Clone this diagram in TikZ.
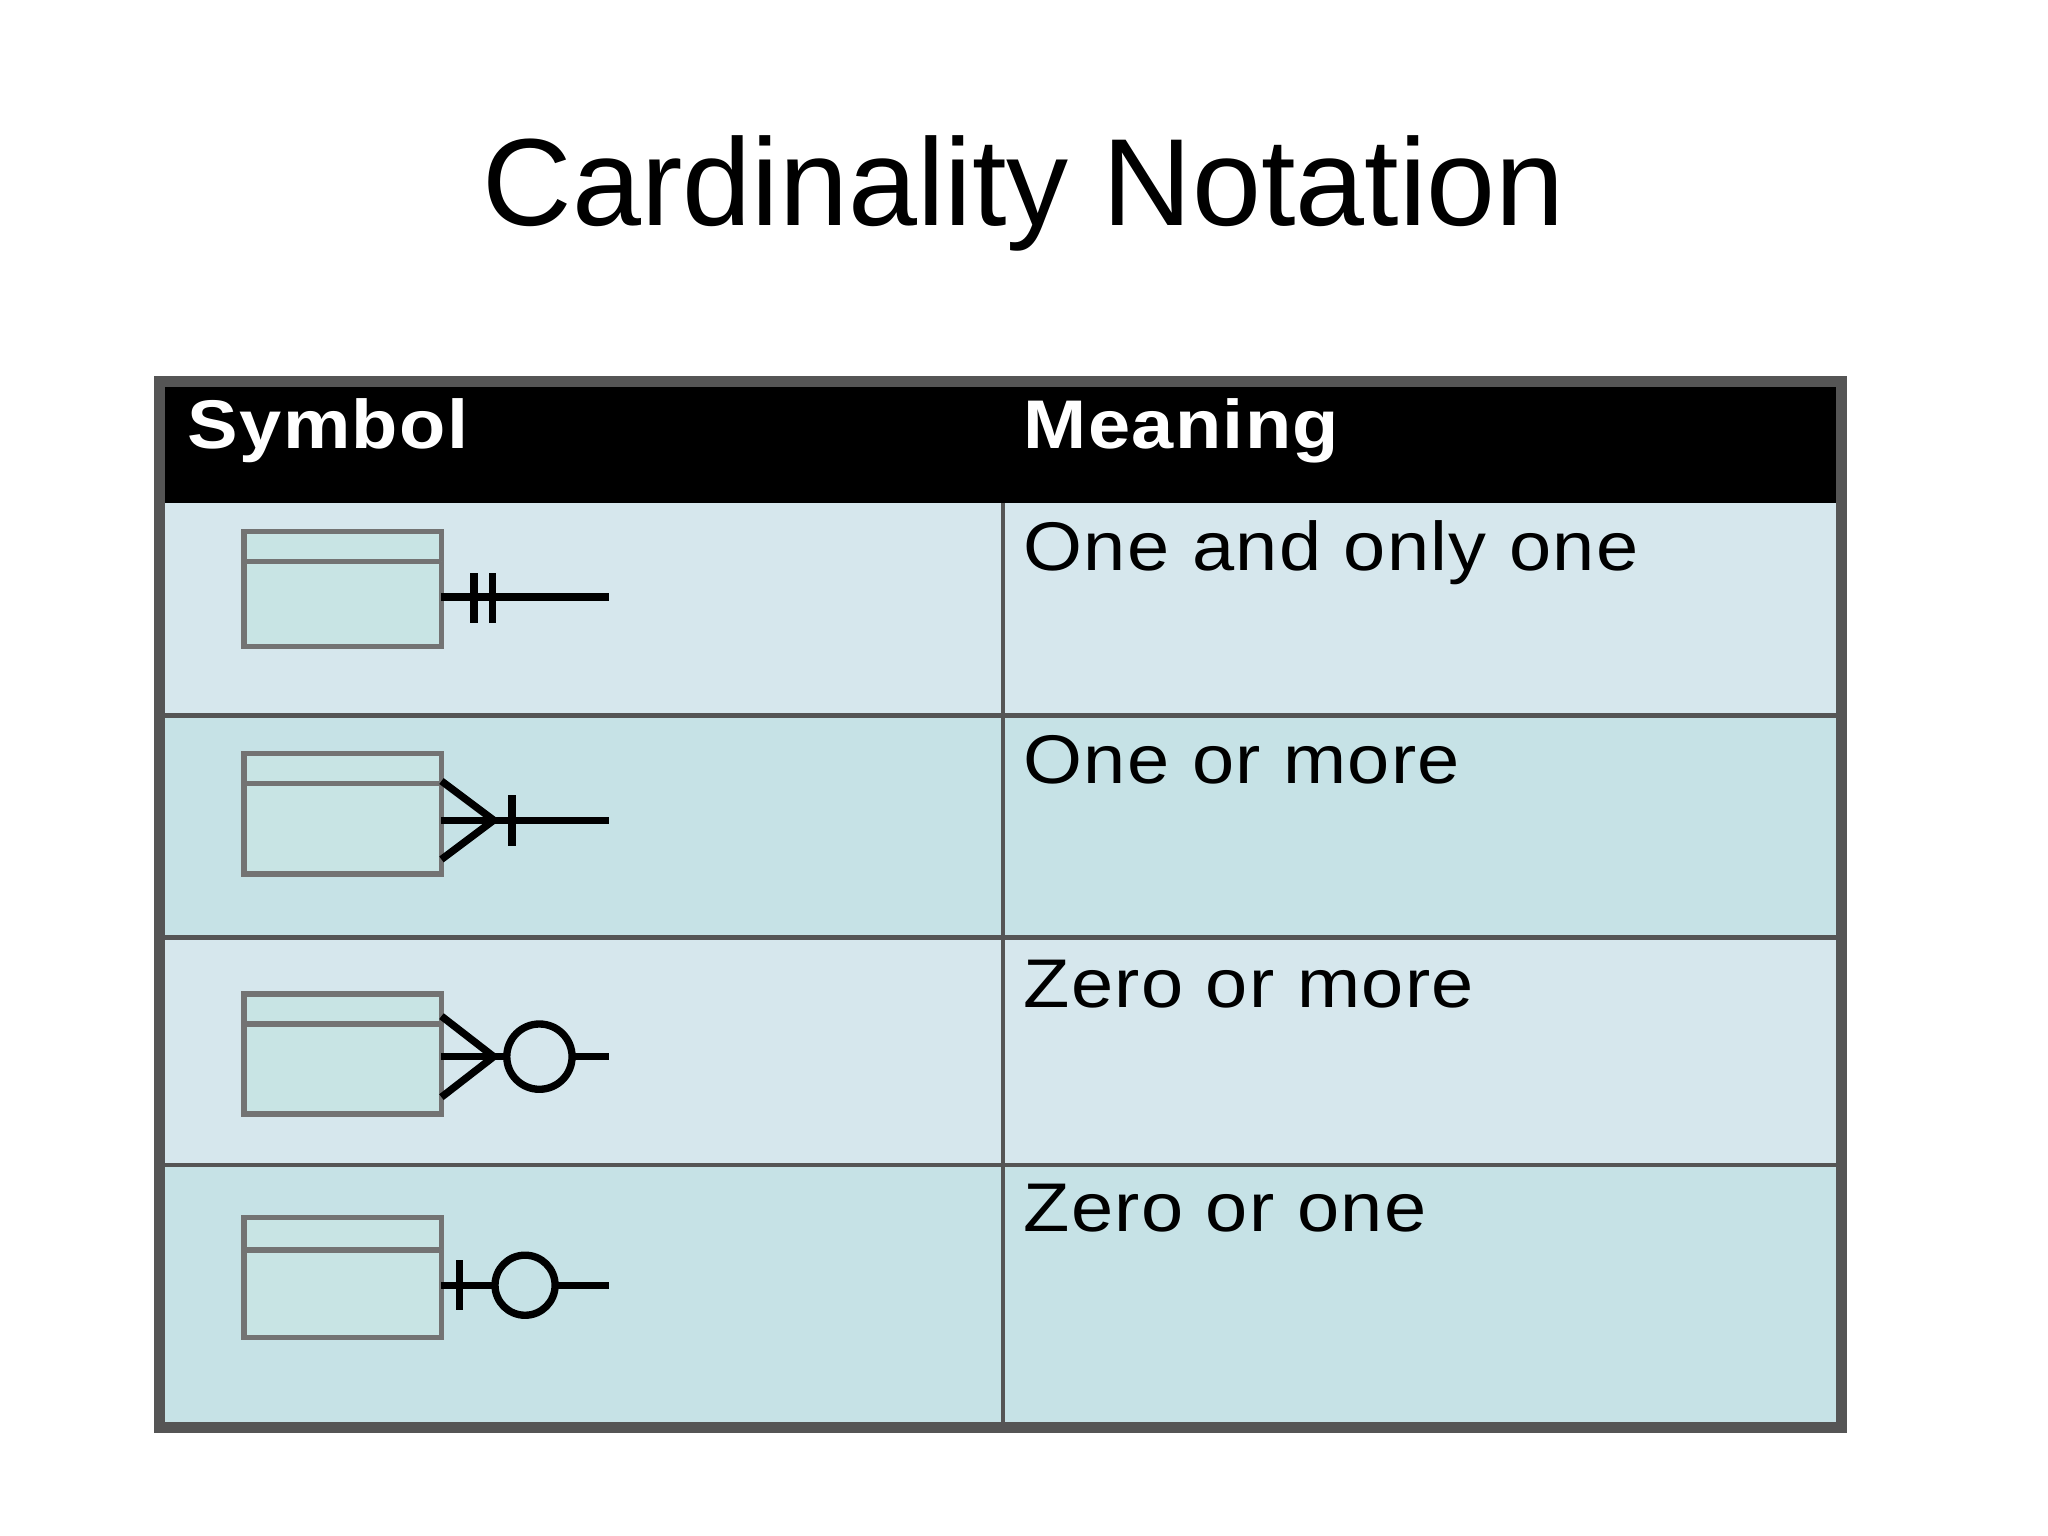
\documentclass[tikz,border=0pt]{standalone}
\usepackage{fontspec}
\setmainfont{Liberation Sans}
\newfontfamily\widefont[FakeStretch=1.1,LetterSpace=2]{Liberation Sans}
\definecolor{rowA}{HTML}{D6E7ED}
\definecolor{rowB}{HTML}{C6E2E6}
\definecolor{ent}{HTML}{C8E4E4}
\definecolor{grid}{HTML}{555555}
\begin{document}
\begin{tikzpicture}[x=0.01cm,y=-0.01cm,
  ent/.style={draw=gray!90!black,fill=ent,line width=1.2pt},
  sym/.style={line width=1.6pt,black},
  mtext/.style={anchor=north west,inner sep=0pt,font=\widefont\fontsize{15}{17}\selectfont},
  htext/.style={anchor=west,inner sep=0pt,text=white,font=\widefont\bfseries\fontsize{15}{17}\selectfont}]
\useasboundingbox (0,0) rectangle (1568,1176);
\node (title) at (784,148) {\fontsize{27}{31}\selectfont Cardinality Notation};
% rows
\fill[rowA] (122,385) rectangle (1410,548);
\fill[rowB] (122,548) rectangle (1410,718);
\fill[rowA] (122,718) rectangle (1410,892);
\fill[rowB] (122,892) rectangle (1410,1093);
\fill[black] (122,292) rectangle (1410,385);
\draw[grid,line width=1pt] (122,548) -- (1410,548) (122,718) -- (1410,718) (122,892) -- (1410,892) (768,385) -- (768,1093);
\draw[grid,line width=2.5pt] (122,292) rectangle (1410,1093);
\node[htext] (h1) at (143,330) {Symbol};
\node[htext] (h2) at (783,330) {Meaning};
\node[mtext] (m1) at (783,398) {One and only one};
\node[mtext] (m2) at (783,562) {One or more};
\node[mtext] (m3) at (783,734) {Zero or more};
\node[mtext] (m4) at (783,906) {Zero or one};
% row 1
\draw[ent] (187,407) rectangle (338,495); \draw[ent] (187,430) -- (338,430);
\draw[sym] (338,457) -- (466,457);
\draw[sym] (363,439) -- (363,477) (377,439) -- (377,477);
% row 2
\draw[ent] (187,577) rectangle (338,669); \draw[ent] (187,600) -- (338,600);
\draw[sym] (338,628) -- (466,628);
\draw[sym] (338,598) -- (378,628) -- (338,658);
\draw[sym] (392,609) -- (392,648);
% row 3
\draw[ent] (187,761) rectangle (338,853); \draw[ent] (187,784) -- (338,784);
\draw[sym] (338,809) -- (388,809) (438,809) -- (466,809);
\draw[sym] (338,778) -- (378,809) -- (338,840);
\draw[sym] (413,809) circle[radius=25];
% row 4
\draw[ent] (187,932) rectangle (338,1024); \draw[ent] (187,957) -- (338,957);
\draw[sym] (338,984) -- (379,984) (425,984) -- (466,984);
\draw[sym] (352,965) -- (352,1003);
\draw[sym] (402,984) circle[radius=23];
\end{tikzpicture}
\end{document}
